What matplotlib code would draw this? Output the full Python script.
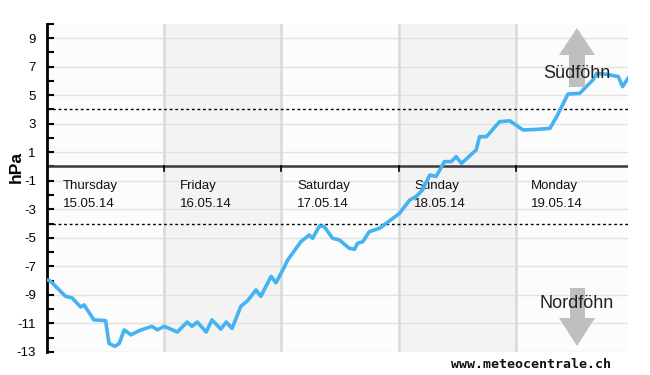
import matplotlib
matplotlib.use("Agg")
import matplotlib.pyplot as plt
from matplotlib.patches import Polygon

plt.rcParams['font.family'] = ['Liberation Sans', 'DejaVu Sans']

# ---- data ----
hours = [0.0, 0.6, 3.8, 5.1, 6.9, 7.6, 9.6, 12.0, 12.7, 13.9, 14.8, 15.8, 17.2, 18.9,
         21.5, 22.6, 24.0, 26.7, 28.7, 29.7, 30.8, 32.6, 33.8, 35.6, 36.7, 37.9, 39.7,
         41.1, 42.8, 43.8, 45.9, 46.9, 48.3, 49.3, 52.0, 53.7, 54.4, 55.8, 56.8, 58.5,
         59.9, 61.9, 63.0, 63.6, 64.7, 66.0, 68.1, 69.5, 72.2, 74.3, 75.6, 76.9, 78.4,
         79.7, 81.4, 82.8, 83.8, 84.9, 87.9, 88.6, 90.0, 92.7, 94.8, 97.5, 100.3, 103.0,
         104.4, 106.7, 109.1, 111.8, 112.6, 114.6, 117.0, 117.9, 119.0]
pressure = [-7.95, -8.0, -9.1, -9.2, -9.85, -9.7, -10.75, -10.8, -12.4, -12.6, -12.4, -11.45,
            -11.8, -11.5, -11.2, -11.45, -11.2, -11.6, -10.9, -11.2, -10.9, -11.6, -10.75,
            -11.4, -10.9, -11.35, -9.8, -9.4, -8.65, -9.1, -7.7, -8.15, -7.25, -6.55, -5.27,
            -4.8, -5.03, -4.17, -4.22, -5.03, -5.15, -5.73, -5.8, -5.38, -5.27, -4.57, -4.33,
            -3.98, -3.28, -2.35, -2.1, -1.65, -0.6, -0.7, 0.34, 0.34, 0.69, 0.22, 1.16, 2.09,
            2.09, 3.14, 3.2, 2.56, 2.6, 2.67, 3.5, 5.08, 5.13, 6.06, 6.53, 6.46, 6.3, 5.6, 6.18]
day_names = ["Thursday", "Friday", "Saturday", "Sunday", "Monday"]
day_dates = ["15.05.14", "16.05.14", "17.05.14", "18.05.14", "19.05.14"]
day_starts = [0, 24, 48, 72, 96]
shaded_days = [24, 72]
y_labels = [9, 7, 5, 3, 1, -1, -3, -5, -7, -9, -11, -13]
foehn_threshold = 4

W, H = 650, 375
fig = plt.figure(figsize=(6.5, 3.75), dpi=100)
ax = fig.add_axes([47 / W, 1 - 352 / H, (628 - 47) / W, (352 - 23.8) / H])
ax.set_facecolor('#fcfcfc')
ax.set_xlim(0, 119)
ax.set_ylim(-13, 10)

# shaded days
for s in shaded_days:
    ax.axvspan(s, s + 24, color='#f3f3f3', zorder=0, lw=0)
# horizontal grid at odd values
for v in y_labels:
    ax.axhline(v, color='#e2e2e2', lw=1, zorder=1)
# day separators
for s in day_starts[1:]:
    ax.axvline(s, color='#d9d9d9', lw=1.8, zorder=1)

# thresholds and zero line
ax.axhline(foehn_threshold, color='black', lw=1, ls=(0, (2, 2)), zorder=2)
ax.axhline(-foehn_threshold, color='black', lw=1, ls=(0, (2, 2)), zorder=2)
ax.axhline(0, color='#3a3a3a', lw=1.8, zorder=2)
for s in day_starts[1:]:
    ax.plot([s, s], [0, -0.3], color='black', lw=1.2, zorder=2)

# day labels
for s, n, d in zip(day_starts, day_names, day_dates):
    ax.text(s + 3.2, -1.4, n, fontsize=9.5, color='#111111', va='center', ha='left', zorder=3)
    ax.text(s + 3.2, -2.65, d, fontsize=9.5, color='#111111', va='center', ha='left', zorder=3)

# arrows (pixel-based decoration)
def px(pts):
    return [(x / W, 1 - y / H) for x, y in pts]

up = px([(577, 28), (595, 55), (585, 55), (585, 87), (569, 87), (569, 55), (559, 55)])
down = px([(570, 288), (585, 288), (585, 318), (595, 318), (577, 346), (559, 318), (570, 318)])
fig.patches.append(Polygon(up, closed=True, transform=fig.transFigure, fc='#bfbfbf', ec='none', zorder=1))
fig.patches.append(Polygon(down, closed=True, transform=fig.transFigure, fc='#bfbfbf', ec='none', zorder=1))

# data line
ax.plot(hours, pressure, color='#45b2f2', lw=2.6, zorder=4, solid_joinstyle='round')

fig.text(577 / W, 1 - 73 / H, "Südföhn", fontsize=13, color='#222222', ha='center', va='center', zorder=5)
fig.text(577 / W, 1 - 303 / H, "Nordföhn", fontsize=13, color='#222222', ha='center', va='center', zorder=5)

# y axis
for sp in ['top', 'right', 'bottom']:
    ax.spines[sp].set_visible(False)
ax.spines['left'].set_linewidth(2)
ax.spines['left'].set_color('black')
ax.set_xticks([])
ax.set_yticks(y_labels)
ax.set_yticklabels([str(v) for v in y_labels])
ax.set_yticks(range(-12, 11, 2), minor=True)
ax.tick_params(axis='y', which='both', direction='in', length=5, width=1.5, color='black',
               labelsize=9.5, pad=8)
fig.text(16 / W, 1 - 167 / H, "hPa", fontsize=12.5, fontweight='bold', rotation=90,
         ha='center', va='center')

fig.text(531 / W, 1 - 365 / H, "www.meteocentrale.ch", fontsize=9.5, fontweight='bold',
         family='DejaVu Sans Mono', ha='center', va='center', color='#111111')

fig.savefig('out.png', dpi=100, facecolor='white')
